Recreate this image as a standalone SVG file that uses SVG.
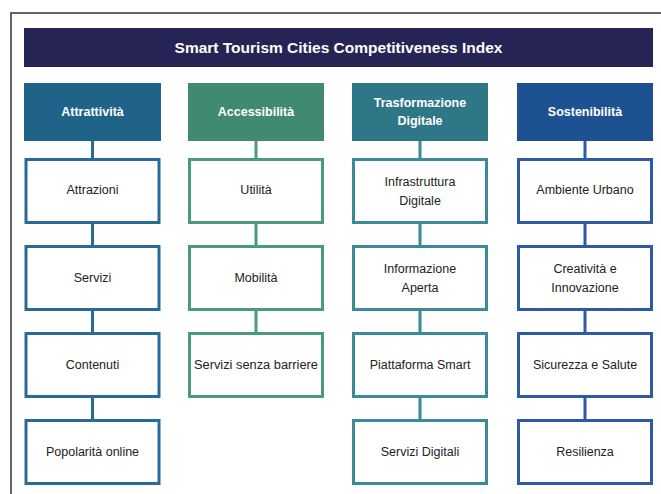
<svg xmlns="http://www.w3.org/2000/svg" width="661" height="494" viewBox="0 0 661 494">
<style>
text{font-family:"Liberation Sans",Arial,sans-serif;text-anchor:middle;dominant-baseline:central}
.t{font-size:15.5px;font-weight:bold;fill:#fff}
.h{font-size:12.5px;font-weight:bold;fill:#fff}
.c{font-size:12.5px;fill:#222}
.box{fill:#fff;stroke-width:3}
.c1{stroke:#2a6a96}.c2{stroke:#4a9a7f}.c3{stroke:#3a8a9a}.c4{stroke:#2d5aa5}
.ln{stroke-width:3;fill:none}
</style>
<rect width="661" height="494" fill="#fff"/>
<path d="M11 494V13H661" fill="none" stroke="#333" stroke-width="1.5"/>
<g id="title"><rect x="24" y="28" width="629" height="39" fill="#262455"/><text class="t" x="338.5" y="47.5">Smart Tourism Cities Competitiveness Index</text></g>
<g id="connectors">
<path class="ln c1" d="M92.5 141V158M92.5 223V245M92.5 311V332M92.5 397V419"/>
<path class="ln c2" d="M256 141V158M256 223V245M256 311V332"/>
<path class="ln c3" d="M420 141V158M420 223V245M420 311V332M420 397V419"/>
<path class="ln c4" d="M585 141V158M585 223V245M585 311V332M585 397V419"/>
</g>
<g id="h1"><rect x="24" y="83" width="137" height="58" fill="#1f6389"/><text class="h" x="92.5" y="112">Attrattività</text></g>
<g id="h2"><rect x="188" y="83" width="136" height="58" fill="#3f8a70"/><text class="h" x="256" y="112">Accessibilità</text></g>
<g id="h3"><rect x="352" y="83" width="136" height="58" fill="#2e7787"/><text class="h" x="420" y="103">Trasformazione</text><text class="h" x="420" y="121">Digitale</text></g>
<g id="h4"><rect x="517" y="83" width="136" height="58" fill="#1e5191"/><text class="h" x="585" y="112">Sostenibilità</text></g>
<g id="a1"><rect class="box c1" x="26" y="159.5" width="133" height="63"/><text class="c" x="92.5" y="190">Attrazioni</text></g>
<g id="a2"><rect class="box c1" x="26" y="246.5" width="133" height="63"/><text class="c" x="92.5" y="278">Servizi</text></g>
<g id="a3"><rect class="box c1" x="26" y="333.5" width="133" height="63"/><text class="c" x="92.5" y="365">Contenuti</text></g>
<g id="a4"><rect class="box c1" x="26" y="420.5" width="133" height="63"/><text class="c" x="92.5" y="452">Popolarità online</text></g>
<g id="b1"><rect class="box c2" x="189.5" y="159.5" width="133" height="63"/><text class="c" x="256" y="190">Utilità</text></g>
<g id="b2"><rect class="box c2" x="189.5" y="246.5" width="133" height="63"/><text class="c" x="256" y="278">Mobilità</text></g>
<g id="b3"><rect class="box c2" x="189.5" y="333.5" width="133" height="63"/><text class="c" x="256" y="365" textLength="124" lengthAdjust="spacingAndGlyphs">Servizi senza barriere</text></g>
<g id="d1"><rect class="box c3" x="353.5" y="159.5" width="133" height="63"/><text class="c" x="420" y="182">Infrastruttura</text><text class="c" x="420" y="201">Digitale</text></g>
<g id="d2"><rect class="box c3" x="353.5" y="246.5" width="133" height="63"/><text class="c" x="420" y="269">Informazione</text><text class="c" x="420" y="288">Aperta</text></g>
<g id="d3"><rect class="box c3" x="353.5" y="333.5" width="133" height="63"/><text class="c" x="420" y="365">Piattaforma Smart</text></g>
<g id="d4"><rect class="box c3" x="353.5" y="420.5" width="133" height="63"/><text class="c" x="420" y="452">Servizi Digitali</text></g>
<g id="s1"><rect class="box c4" x="518.5" y="159.5" width="133" height="63"/><text class="c" x="585" y="190">Ambiente Urbano</text></g>
<g id="s2"><rect class="box c4" x="518.5" y="246.5" width="133" height="63"/><text class="c" x="585" y="269">Creatività e</text><text class="c" x="585" y="288">Innovazione</text></g>
<g id="s3"><rect class="box c4" x="518.5" y="333.5" width="133" height="63"/><text class="c" x="585" y="365">Sicurezza e Salute</text></g>
<g id="s4"><rect class="box c4" x="518.5" y="420.5" width="133" height="63"/><text class="c" x="585" y="452">Resilienza</text></g>
</svg>
